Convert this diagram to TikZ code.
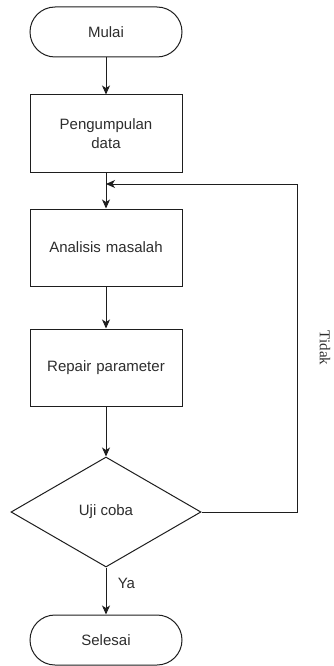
\documentclass[tikz,border=0pt]{standalone}
\usepackage{fontspec}
\setmainfont{Liberation Sans}
\newfontfamily\labelserif{Liberation Serif}
\usepackage{tikz}
\usetikzlibrary{shapes.geometric, arrows.meta, positioning, calc}
\definecolor{mydark}{RGB}{30,30,30}
\definecolor{mytext}{RGB}{45,45,45}
\tikzset{
  terminal/.style={rectangle, draw=mydark, fill=white,
    minimum width=152pt, minimum height=50pt, rounded corners=25pt,
    font=\fontsize{15}{18}\selectfont, text=mytext, line width=1pt},
  process/.style={rectangle, draw=mydark, fill=white,
    minimum width=152pt, minimum height=77pt, text width=140pt, align=center,
    font=\fontsize{15}{19}\selectfont, text=mytext, line width=1pt},
  decision/.style={diamond, draw=mydark, fill=white, inner sep=0pt,
    minimum width=190pt, minimum height=110pt,
    font=\fontsize{15}{18}\selectfont, text=mytext, line width=1pt},
  arrow/.style={-{Stealth[length=9pt, width=8pt, inset=2.5pt]}, line width=1pt, color=mydark},
  line/.style={line width=1pt, color=mydark}
}

\begin{document}
\begin{tikzpicture}[x=1pt, y=-1pt]
  \useasboundingbox (0,0) rectangle (333,666);

  % Flow nodes
  \node[terminal] (mulai) at (106, 32) {Mulai};
  \node[process] (kumpul) at (106, 133.5) {Pengumpulan\\data};
  \node[process] (analisis) at (106, 247.5) {Analisis masalah};
  \node[process] (repair) at (106, 367.5) {Repair parameter};
  \node[decision] (uji) at (106, 512) {Uji coba};
  \node[terminal] (selesai) at (106, 640) {Selesai};

  % Loop points
  \coordinate (gabung) at (106, 184);
  \coordinate (sudut) at (297, 512);

  % Paths
  \draw[arrow] (mulai) -- (kumpul);
  \draw[arrow] (kumpul) -- (analisis);
  \draw[arrow] (analisis) -- (repair);
  \draw[arrow] (repair) -- (uji);
  \draw[arrow] (uji) -- (selesai) node[pos=0.33, right=8pt, font=\fontsize{15}{18}\selectfont, text=mytext] {Ya};
  \draw[arrow] (uji.east) -- (sudut) |- (gabung)
    node[pos=0.25, xshift=28pt, rotate=-90, font=\labelserif\fontsize{15}{18}\selectfont, text=mytext] {Tidak};
\end{tikzpicture}
\end{document}
